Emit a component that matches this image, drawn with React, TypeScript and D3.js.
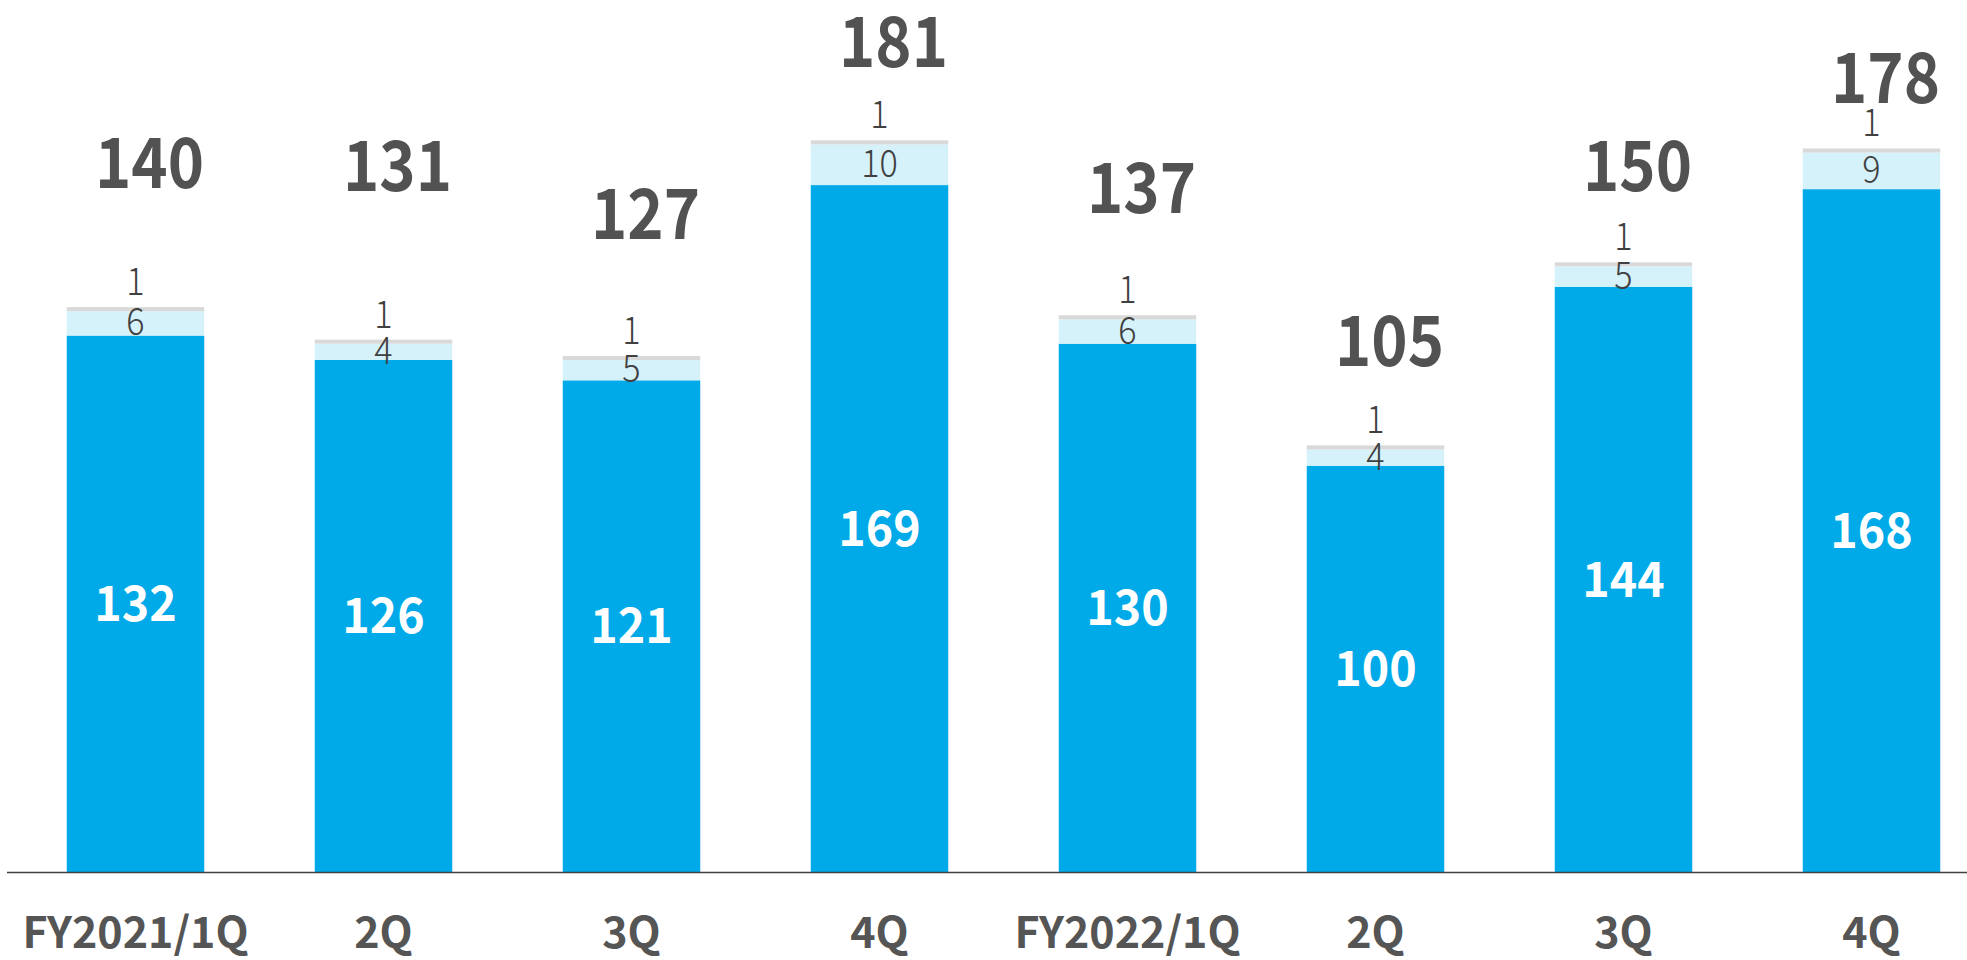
import React from "react";
import * as d3 from "d3";

const categories = ["FY2021/1Q", "2Q", "3Q", "4Q", "FY2022/1Q", "2Q ", "3Q ", "4Q "];
const categoryLabels = ["FY2021/1Q", "2Q", "3Q", "4Q", "FY2022/1Q", "2Q", "3Q", "4Q"];
const mainValues = [132, 126, 121, 169, 130, 100, 144, 168];
const secondValues = [6, 4, 5, 10, 6, 4, 5, 9];
const otherValues = [1, 1, 1, 1, 1, 1, 1, 1];
const totals = [140, 131, 127, 181, 137, 105, 150, 178];
// hidden helper series (in value units) carrying the total labels
const totalLabelLevel = [168.3, 167.5, 155.7, 198.0, 162.1, 124.5, 167.5, 189.2];

const W = 1967;
const H = 960;
const FONT = "'Noto Sans CJK JP', 'Noto Sans', sans-serif";

export default function App() {
  const x = d3
    .scaleBand<string>()
    .domain(categories)
    .range([11.5, 1995.5])
    .paddingInner(0.4456)
    .paddingOuter(0.2228);
  const y = d3.scaleLinear().domain([0, 214.5]).range([872.5, 0]);
  const bw = x.bandwidth();

  return (
    <div style={{ position: "absolute", left: 0, top: 0, width: W, height: H, background: "#fff" }}>
      <svg width={W} height={H} style={{ display: "block" }}>
        <rect x={0} y={0} width={W} height={H} fill="#ffffff" />
        {categories.map((c, i) => {
          const x0 = x(c)!;
          const cx = x0 + bw / 2;
          const m = mainValues[i];
          const s = secondValues[i];
          const o = otherValues[i];
          const yMain = y(m);
          const ySec = y(m + s);
          const yOther = y(m + s + o);
          return (
            <g key={c}>
              <rect x={x0} y={yMain} width={bw} height={y(0) - yMain} fill="#00A9E8" />
              <rect x={x0} y={ySec} width={bw} height={yMain - ySec} fill="#D5F1FA" />
              <rect x={x0} y={yOther} width={bw} height={ySec - yOther} fill="#D9D9D9" />
              <text
                transform={`translate(${cx},${(yMain + y(0)) / 2 + 17}) scale(0.95,1)`}
                textAnchor="middle"
                fontFamily={FONT}
                fontWeight={700}
                fontSize={49}
                fill="#ffffff"
              >
                {m}
              </text>
              <text
                transform={`translate(${cx},${(ySec + yMain) / 2 + 12}) scale(0.9,1)`}
                textAnchor="middle"
                fontFamily={FONT}
                fontWeight={300}
                fontSize={38}
                fill="#404040"
              >
                {s}
              </text>
              <text
                transform={`translate(${cx},${yOther - 12}) scale(0.9,1)`}
                textAnchor="middle"
                fontFamily={FONT}
                fontWeight={300}
                fontSize={38}
                fill="#404040"
              >
                {o}
              </text>
              <text
                transform={`translate(${cx + 14},${y(totalLabelLevel[i])}) scale(0.88,1)`}
                textAnchor="middle"
                fontFamily={FONT}
                fontWeight={700}
                fontSize={70}
                fill="#525252"
              >
                {totals[i]}
              </text>
              <text
                x={cx}
                y={948}
                textAnchor="middle"
                fontFamily={FONT}
                fontWeight={700}
                fontSize={43}
                fill="#555555"
              >
                {categoryLabels[i]}
              </text>
            </g>
          );
        })}
        <line x1={7} x2={W} y1={y(0)} y2={y(0)} stroke="#404040" strokeWidth={1.6} />
      </svg>
    </div>
  );
}
